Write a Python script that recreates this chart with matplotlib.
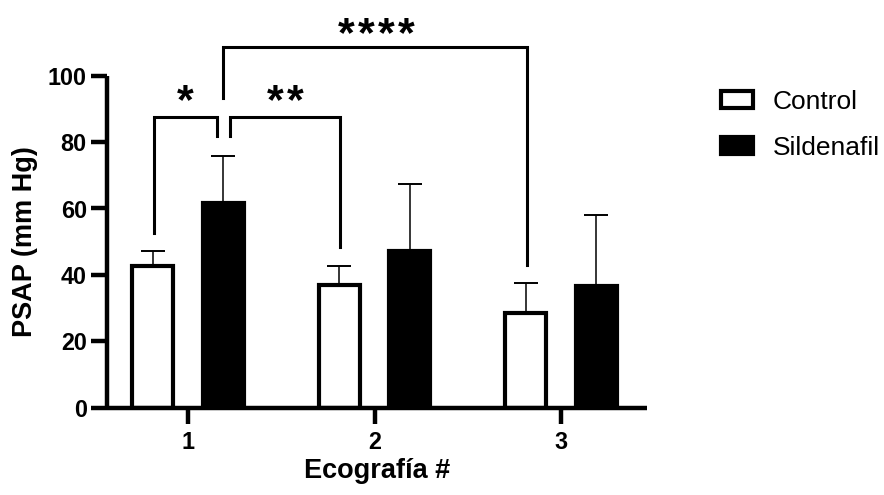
import matplotlib

matplotlib.use("Agg")
from matplotlib import pyplot as plt
from matplotlib.patches import Patch

plt.rcParams["font.family"] = ["Liberation Sans", "DejaVu Sans"]

INK = "#000000"

visits = [1, 2, 3]
tick_labels = ["1", "2", "3"]
control_mean = [42.8, 37.0, 28.4]
control_sd = [4.4, 5.8, 9.1]
sildenafil_mean = [61.6, 47.3, 36.7]
sildenafil_sd = [14.2, 20.2, 21.3]

# significance brackets: (x_left, y_left_end, x_right, y_right_end, y_top)
brackets = [
    (0.817, 52.7, 1.156, 81.8, 87.5),
    (1.226, 81.8, 1.817, 48.3, 87.5),
    (1.190, 93.3, 2.820, 43.0, 108.7),
]
stars = [("*", 0.984, 94.2), ("**", 1.524, 94.2), ("****", 2.011, 114.4)]

OFFSET = 0.188
WIDTH = 0.22

fig = plt.figure(figsize=(8.84, 4.95), dpi=100)
ax = fig.add_axes([107 / 884, 1 - 407.7 / 495, 540 / 884, 332 / 495])

xc = [v - OFFSET for v in visits]
xs = [v + OFFSET for v in visits]

ax.errorbar(xc, control_mean, yerr=[[0] * 3, control_sd], fmt="none", ecolor=INK,
            elinewidth=1.1, capsize=8.3, capthick=1.4, zorder=1)
ax.errorbar(xs, sildenafil_mean, yerr=[[0] * 3, sildenafil_sd], fmt="none", ecolor=INK,
            elinewidth=1.1, capsize=8.3, capthick=1.4, zorder=1)
ax.bar(xc, control_mean, width=WIDTH, facecolor="white", edgecolor=INK, linewidth=3, zorder=2)
ax.bar(xs, sildenafil_mean, width=WIDTH, facecolor=INK, edgecolor=INK, linewidth=3, zorder=2)

for x0, y0, x1, y1, top in brackets:
    ax.plot([x0, x0, x1, x1], [y0, top, top, y1], color=INK, linewidth=2.2,
            solid_joinstyle="miter", clip_on=False, zorder=3)

STAR_SIZE = 31
STAR_GAP = 14.4  # points between stars
for label, sx, sy in stars:
    n = len(label)
    for i in range(n):
        dx = (i - (n - 1) / 2) * STAR_GAP
        ax.annotate("*", xy=(sx, sy), xytext=(dx, -0.42 * STAR_SIZE), textcoords="offset points",
                    ha="center", va="baseline", fontsize=STAR_SIZE, fontweight="bold",
                    color=INK, annotation_clip=False)

ax.set_xlim(0.5657, 3.461)
ax.set_ylim(0, 100)
ax.set_xticks(visits)
ax.set_xticklabels(tick_labels)
ax.set_yticks([0, 20, 40, 60, 80, 100])

for side in ("top", "right"):
    ax.spines[side].set_visible(False)
for side in ("left", "bottom"):
    ax.spines[side].set_linewidth(3.2)
    ax.spines[side].set_color(INK)
    ax.spines[side].set_capstyle("butt")

ax.tick_params(axis="both", length=11.5, width=3.2, colors=INK, labelsize=16.8)
ax.tick_params(axis="x", pad=5)
ax.tick_params(axis="y", pad=3)
for lab in ax.get_xticklabels() + ax.get_yticklabels():
    lab.set_fontweight("bold")

ax.set_xlabel("Ecografía #", fontsize=19.5, fontweight="bold", labelpad=3)
ax.set_ylabel("PSAP (mm Hg)", fontsize=19.5, fontweight="bold", labelpad=7)

handles = [
    Patch(facecolor="white", edgecolor=INK, linewidth=3),
    Patch(facecolor=INK, edgecolor=INK, linewidth=3),
]
fig.legend(handles, ["Control", "Sildenafil"], loc="upper left",
           bbox_to_anchor=(721 / 884, 1 - 90 / 495), frameon=False, fontsize=19,
           handlelength=1.2, handleheight=0.62, handletextpad=0.75, labelspacing=0.82,
           borderpad=0, borderaxespad=0)

fig.savefig("out.png", dpi=100)
